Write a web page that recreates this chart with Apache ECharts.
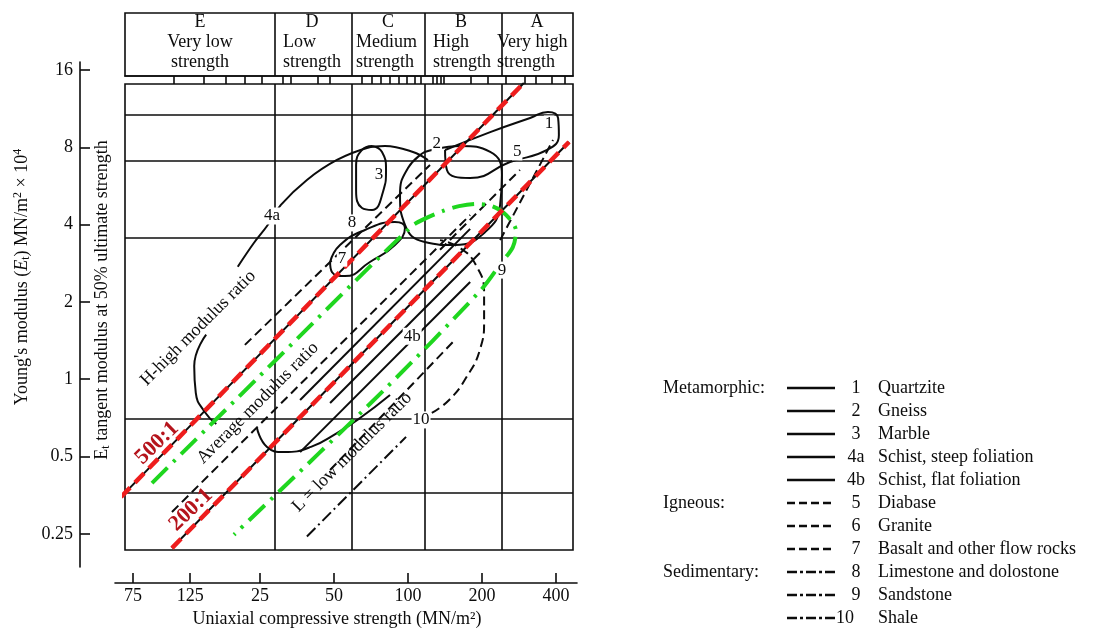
<!DOCTYPE html>
<html>
<head>
<meta charset="utf-8">
<script src="https://cdn.jsdelivr.net/npm/echarts@6.0.0/dist/echarts.min.js"></script>
<style>
html,body{margin:0;padding:0;background:#fff;}
#chart{width:1099px;height:635px;}
</style>
</head>
<body>
<div id="chart"></div>
<script>
// ---------------- axis ticks ----------------
const xTickValues = [7.6, 13, 25, 50, 100, 200, 400];
const xTickLabels = ['75', '125', '25', '50', '100', '200', '400'];
const yTickValues = [0.25, 0.5, 1, 2, 4, 8, 16];
const yTickLabels = ['0.25', '0.5', '1', '2', '4', '8', '16'];

// ---------------- strength classes (header) ----------------
const classNames = ['E', 'D', 'C', 'B', 'A'];
const classText = [['Very low', 'strength'], ['Low', 'strength'], ['Medium', 'strength'], ['High', 'strength'], ['Very high', 'strength']];
const classBounds = [28.8, 59.2, 117.3, 241.3];
const classLetterX = [14.25, 40.7, 82.9, 164.3, 334.9];
const classTextX = [14.25, 31.0, 61.45, 126.4, 230.2];
const headerMinorTicks = [11.1, 14.7, 18.2, 21.7, 25.5, 31.0, 33.4, 43.0, 48.2, 65.0, 71.4, 77.7, 84.5, 91.9, 99.1, 106.8, 113, 126, 131, 136, 140, 180, 212, 250, 299, 332, 385, 435];

// horizontal grid lines of the plot (E, 10^4 MN/m2)
const gridE = [0.358, 0.699, 3.55, 7.08, 10.69];

// ---------------- modulus ratio lines ----------------
const ratio500 = [[6.8, 0.348], [296, 14.24]];
const ratio200 = [[10.96, 0.22], [452, 8.39]];
const averageEnvelope = [[9.09, 0.394], [29.0, 1.188], [102.9, 3.92], [118.4, 4.24], [138.9, 4.52], [161.3, 4.72], [189, 4.81], [219.7, 4.72], [250.5, 4.36], [275, 3.78], [267, 3.27], [239, 2.83], [198, 2.225], [79.9, 0.908], [19.6, 0.248]];

// ---------------- rock outlines ----------------
const schist4aTop = [[20.3, 2.74], [23.6, 3.39], [26.7, 3.95], [30.4, 4.77], [38.8, 5.97], [51.4, 7.14], [68.1, 7.95], [80.6, 8.09], [104.8, 7.67], [120.6, 7.14]];
const schist4aLow = [[15.1, 1.49], [13.5, 1.125], [13.7, 0.884], [14.9, 0.745], [16.6, 0.669]];
const marble3 = [[71.4, 8.09], [78.4, 7.67], [81.4, 6.53], [79.1, 5.36], [71.4, 4.56], [65, 4.64], [61.5, 5.46], [61.5, 6.83], [65, 7.81], [71.4, 8.09]];
const gneiss2 = [[117, 7.67], [163, 8.09], [216, 7.67], [241, 6.24], [237, 4.77], [206, 3.74], [155, 3.33], [117, 3.42], [97.2, 3.99], [92.8, 5.22], [100, 6.64], [117, 7.67]];
const quartzite1 = [[141.5, 7.81], [216, 9.17], [314, 10.4], [371, 10.98], [408, 10.4], [411, 8.93], [368, 7.81], [260, 7.01], [179, 6.07], [144, 6.53], [141.5, 7.81]];
const basalt7 = [[48.2, 2.86], [52.9, 3.33], [66.8, 3.81], [88.5, 4.09], [97.2, 3.88], [88.5, 3.33], [70, 2.86], [55.4, 2.52], [49.1, 2.61], [48.2, 2.86]];
const schist4bLoop = [[24.3, 0.646], [26.7, 0.545], [31.3, 0.52], [40.3, 0.545], [51.4, 0.617], [63.8, 0.706], [84.5, 0.868]];
const shale10Low = [[38.8, 0.244], [98.2, 0.596]];
const shale10Up = [[125, 0.739], [147, 0.83], [172, 1.01], [196, 1.3], [204, 1.7], [204, 2.17], [189, 2.78], [163, 3.24], [135, 3.48]];
const diagDashA = [[10.96, 0.304], [179, 4.36]];
const diagDashB = [[21.7, 1.36], [122.9, 6.83]];
const diagDashC = [[48.2, 0.443], [155, 1.42]];
const diagDashD = [[237, 3.48], [389, 8.54]];
const diagDashE = [[135, 3.19], [285.5, 6.53]];
const diagSolidA = [[36.4, 0.83], [179, 3.85]];
const diagSolidB = [[48.2, 0.808], [196, 3.10]];
const diagSolidC = [[36.4, 0.52], [179, 2.39]];

// ---------------- in-plot text ----------------
const zoneNames = ['H-high modulus ratio', 'Average modulus ratio', 'L = low modulus ratio'];
const zonePos = [[14.0, 1.58], [24.5, 0.808], [59.2, 0.52]];
const ratioNames = ['500:1', '200:1'];
const ratioPos = [[9.53, 0.564], [13.1, 0.31]];
const rockIds = ['1', '2', '3', '4a', '4b', '5', '7', '8', '9', '10'];
const rockIdPos = [[375, 9.86], [131, 8.31], [76.2, 6.24], [28, 4.32], [104, 1.47], [278, 7.67], [53.9, 2.96], [59.2, 4.06], [241, 2.66], [113, 0.694]];

// ---------------- legend ----------------
const legendGroups = ['Metamorphic:', 'Igneous:', 'Sedimentary:'];
const legendGroupRow = [0, 5, 8];
const legendNums = ['1', '2', '3', '4a', '4b', '5', '6', '7', '8', '9', '10'];
const legendNames = ['Quartzite', 'Gneiss', 'Marble', 'Schist, steep foliation', 'Schist, flat foliation', 'Diabase', 'Granite', 'Basalt and other flow rocks', 'Limestone and dolostone', 'Sandstone', 'Shale'];
const legendKinds = ['solid', 'solid', 'solid', 'solid', 'solid', 'dash', 'dash', 'dash', 'dashdot', 'dashdot', 'dashdot'];

// ================= chart =================
const INK = '#0c0c0c';
const FONT = '"Liberation Serif", "Times New Roman", serif';
const DASHES = { solid: 'solid', dash: [9, 5], dashdot: [12, 4, 2, 4] };
const HIDDEN_ITEM = { color: 'rgba(0,0,0,0)', opacity: 1 };

function pick(v, vals, labels) {
  let best = 0, d = Infinity;
  vals.forEach((t, i) => { const dd = Math.abs(Math.log(v) - Math.log(t)); if (dd < d) { d = dd; best = i; } });
  return labels[best];
}

function curve(name, data, kind, smooth, extra) {
  return Object.assign({
    type: 'line', name, data, xAxisIndex: 0, yAxisIndex: 0,
    symbol: 'none', showSymbol: false, smooth: smooth, clip: false, silent: true, z: 3,
    lineStyle: { color: INK, width: 2, type: DASHES[kind] }
  }, extra || {});
}

function textSeries(names, pos, labelOpt, z) {
  return {
    type: 'scatter', xAxisIndex: 0, yAxisIndex: 0, symbolSize: 1, silent: true, z: z || 8,
    itemStyle: HIDDEN_ITEM,
    data: names.map((n, i) => ({ value: pos[i], name: n })),
    label: Object.assign({ show: true, position: 'inside', formatter: p => p.name, fontFamily: FONT, color: INK, opacity: 1, textBorderWidth: 0 }, labelOpt)
  };
}

const series = [];
// plot grid lines
series.push({
  type: 'line', xAxisIndex: 0, yAxisIndex: 0, data: [], silent: true, z: 1,
  markLine: {
    silent: true, symbol: 'none', label: { show: false }, animation: false,
    lineStyle: { color: INK, width: 1.6, type: 'solid' },
    data: classBounds.map(v => ({ xAxis: v })).concat(gridE.map(v => ({ yAxis: v })))
  }
});
// header dividers
series.push({
  type: 'line', xAxisIndex: 1, yAxisIndex: 1, data: [], silent: true, z: 1,
  markLine: {
    silent: true, symbol: 'none', label: { show: false }, animation: false,
    lineStyle: { color: INK, width: 1.6, type: 'solid' },
    data: classBounds.map(v => ({ xAxis: v }))
  }
});
// header texts
series.push({
  type: 'scatter', xAxisIndex: 1, yAxisIndex: 1, symbolSize: 1, silent: true,
  itemStyle: HIDDEN_ITEM,
  data: classNames.map((n, i) => ({ value: [classLetterX[i], 0.857], name: n })),
  label: { show: true, position: 'inside', formatter: p => p.name, fontFamily: FONT, fontSize: 18, color: INK, opacity: 1, textBorderWidth: 0 }
});
series.push({
  type: 'scatter', xAxisIndex: 1, yAxisIndex: 1, symbolSize: 1, silent: true,
  itemStyle: HIDDEN_ITEM,
  data: classText.map((t, i) => ({ value: [classTextX[i], 0.373], name: t.join('\n'), label: { align: i === 0 ? 'center' : 'left' } })),
  label: { show: true, position: 'inside', formatter: p => p.name, fontFamily: FONT, fontSize: 18, lineHeight: 20, color: INK, opacity: 1, textBorderWidth: 0 }
});

// rock outlines
series.push(curve('4a top', schist4aTop, 'solid', 0.4));
series.push(curve('4a low', schist4aLow, 'solid', 0.5));
series.push(curve('3', marble3, 'solid', 0.5));
series.push(curve('2', gneiss2, 'solid', 0.5));
series.push(curve('1', quartzite1, 'solid', 0.5));
series.push(curve('7', basalt7, 'solid', 0.5));
series.push(curve('4b', schist4bLoop, 'solid', 0.5));
series.push(curve('10a', shale10Low, 'dashdot', false));
series.push(curve('10b', shale10Up, 'dash', 0.5));
series.push(curve('dA', diagDashA, 'dash', false));
series.push(curve('dB', diagDashB, 'dash', false));
series.push(curve('dC', diagDashC, 'dash', false));
series.push(curve('dD', diagDashD, 'dash', false));
series.push(curve('dE', diagDashE, 'dash', false));
series.push(curve('sA', diagSolidA, 'solid', false));
series.push(curve('sB', diagSolidB, 'solid', false));
series.push(curve('sC', diagSolidC, 'solid', false));

// black guide under the ratio lines
series.push(curve('500 base', ratio500, 'solid', false, { z: 4 }));
series.push(curve('200 base', ratio200, 'solid', false, { z: 4 }));
// green average envelope
series.push(curve('average', averageEnvelope, 'solid', 0.3, {
  z: 5, lineStyle: { color: '#1fd61f', width: 4, type: [22, 8, 3, 8] }
}));
// red ratio lines
series.push(curve('500:1', ratio500, 'solid', false, { z: 6, lineStyle: { color: '#ee1d1d', width: 4.5, type: [13, 7] } }));
series.push(curve('200:1', ratio200, 'solid', false, { z: 6, lineStyle: { color: '#ee1d1d', width: 4.5, type: [13, 7] } }));

// texts in the plot
series.push(textSeries(zoneNames, zonePos, { fontSize: 18, rotate: 45 }));
series.push(textSeries(ratioNames, ratioPos, { fontSize: 22, fontWeight: 'bold', rotate: 44, color: '#b5141c' }));
series.push(textSeries(rockIds, rockIdPos, { fontSize: 17, backgroundColor: '#fff', padding: [0, 1] }));

// legend + axis titles (graphic)
const graphic = [];
legendNums.forEach((n, i) => {
  const y = 388 + 23 * i;
  graphic.push({ type: 'line', silent: true, shape: { x1: 787, y1: y, x2: 835, y2: y },
    style: { stroke: INK, lineWidth: 2.4, lineDash: legendKinds[i] === 'solid' ? null : (legendKinds[i] === 'dash' ? [8, 4] : [10, 3, 3, 3]) } });
  graphic.push({ type: 'text', silent: true, x: n === '10' ? 845 : 856, y: y,
    style: { text: n, font: '18px ' + FONT, fill: INK, align: 'center', verticalAlign: 'middle', textAlign: 'center', textVerticalAlign: 'middle' } });
  graphic.push({ type: 'text', silent: true, x: 878, y: y,
    style: { text: legendNames[i], font: '18px ' + FONT, fill: INK, align: 'left', verticalAlign: 'middle', textAlign: 'left', textVerticalAlign: 'middle' } });
});
legendGroups.forEach((g, i) => {
  graphic.push({ type: 'text', silent: true, x: 663, y: 388 + 23 * legendGroupRow[i],
    style: { text: g, font: '18px ' + FONT, fill: INK, align: 'left', verticalAlign: 'middle', textAlign: 'left', textVerticalAlign: 'middle' } });
});
graphic.push({ type: 'text', silent: true, x: 22, y: 277, rotation: Math.PI / 2,
  style: { text: "Young's modulus ({i|E}{s|t}) MN/m{p|2} × 10{p|4}", font: '18px ' + FONT, fill: INK,
    align: 'center', verticalAlign: 'middle', textAlign: 'center', textVerticalAlign: 'middle',
    rich: { i: { fontStyle: 'italic', fontFamily: FONT, fontSize: 18 }, s: { fontFamily: FONT, fontSize: 12, verticalAlign: 'bottom', padding: [8, 0, 0, 0] }, p: { fontFamily: FONT, fontSize: 12, verticalAlign: 'top', padding: [0, 0, 8, 0] } } } });
graphic.push({ type: 'text', silent: true, x: 102, y: 300, rotation: Math.PI / 2,
  style: { text: "E{s|t} tangent modulus at 50% ultimate strength", font: '18px ' + FONT, fill: INK,
    align: 'center', verticalAlign: 'middle', textAlign: 'center', textVerticalAlign: 'middle',
    rich: { s: { fontFamily: FONT, fontSize: 12, verticalAlign: 'bottom', padding: [8, 0, 0, 0] } } } });

const axisLineStyle = { color: INK, width: 1.6 };
const option = {
  animation: false,
  backgroundColor: '#fff',
  grid: [
    { left: 125, top: 84, width: 448, height: 466, show: true, borderColor: INK, borderWidth: 1.6, outerBoundsMode: 'none' },
    { left: 125, top: 13, width: 448, height: 63, show: true, borderColor: INK, borderWidth: 1.6, outerBoundsMode: 'none' },
    { left: 80, top: 62, width: 10, height: 505, outerBoundsMode: 'none' },
    { left: 115, top: 582, width: 462, height: 1, outerBoundsMode: 'none' }
  ],
  xAxis: [
    { gridIndex: 0, type: 'log', logBase: 2, min: 7.059, max: 469.1, show: false },
    { gridIndex: 1, type: 'log', logBase: 2, min: 7.059, max: 469.1, position: 'bottom',
      axisLine: { show: true, lineStyle: axisLineStyle },
      axisTick: { show: true, inside: false, length: 8, customValues: headerMinorTicks, lineStyle: axisLineStyle },
      axisLabel: { show: false }, splitLine: { show: false }, minorTick: { show: false } },
    { gridIndex: 2, type: 'value', show: false },
    { gridIndex: 3, type: 'log', logBase: 2, min: 6.428, max: 487, position: 'bottom',
      axisLine: { show: true, lineStyle: axisLineStyle },
      axisTick: { show: true, inside: true, length: 10, customValues: xTickValues, lineStyle: axisLineStyle },
      axisLabel: { show: true, customValues: xTickValues, formatter: v => pick(v, xTickValues, xTickLabels), fontFamily: FONT, fontSize: 18, color: INK, margin: 4 },
      splitLine: { show: false },
      name: 'Uniaxial compressive strength (MN/m²)', nameLocation: 'middle', nameGap: 27,
      nameTextStyle: { fontFamily: FONT, fontSize: 18, color: INK, padding: [0, 18, 0, 0] } }
  ],
  yAxis: [
    { gridIndex: 0, type: 'log', logBase: 2, min: 0.2162, max: 14.11, show: false },
    { gridIndex: 1, type: 'value', min: 0, max: 1, show: false },
    { gridIndex: 2, type: 'log', logBase: 2, min: 0.1857, max: 17.19, position: 'left',
      axisLine: { show: true, lineStyle: axisLineStyle },
      axisTick: { show: true, inside: true, length: 10, customValues: yTickValues, lineStyle: axisLineStyle },
      axisLabel: { show: true, customValues: yTickValues, formatter: v => pick(v, yTickValues, yTickLabels), fontFamily: FONT, fontSize: 18, color: INK, margin: 7 },
      splitLine: { show: false } },
    { gridIndex: 3, type: 'value', show: false }
  ],
  series: series,
  graphic: graphic
};

const chart = echarts.init(document.getElementById('chart'), null, { renderer: 'canvas' });
chart.setOption(option);
</script>
</body>
</html>
